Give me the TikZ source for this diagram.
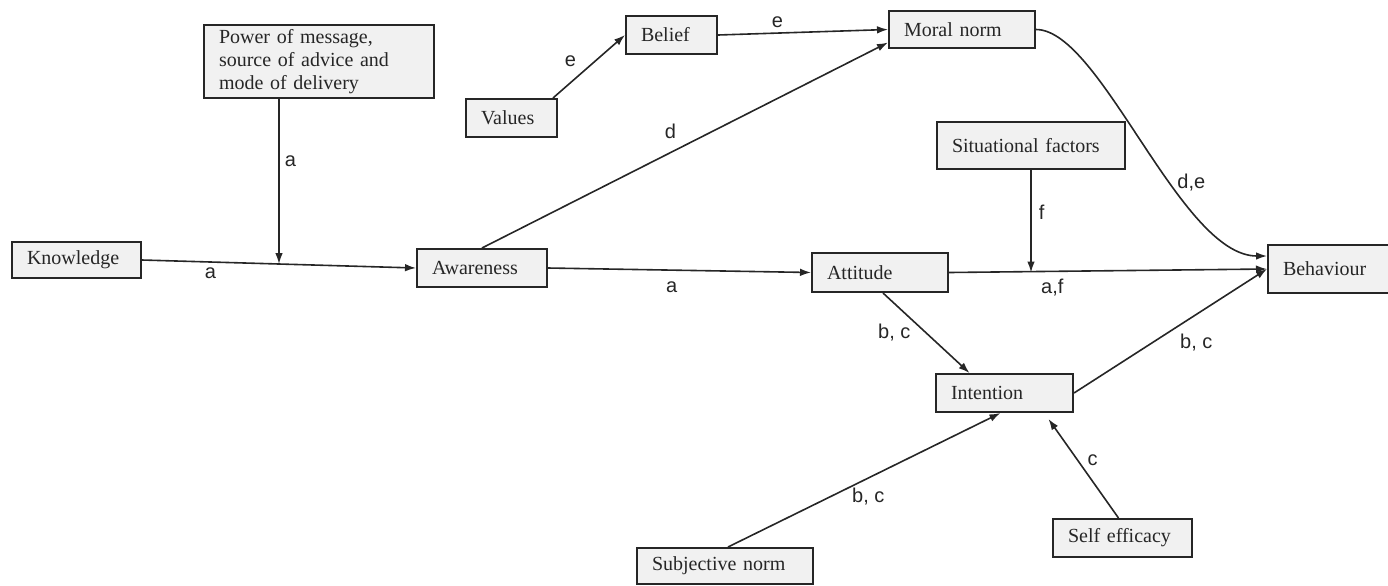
\documentclass[tikz,border=0pt]{standalone}
\usepackage{fontspec}
\setmainfont{Liberation Serif}
\newfontfamily\lblfont{Liberation Sans}
\usetikzlibrary{arrows.meta,calc}
\definecolor{boxfill}{HTML}{F1F1F1}
\definecolor{ink}{HTML}{262626}

\begin{document}
\begin{tikzpicture}[x=0.5pt,y=-0.5pt,
    box/.style 2 args={draw=ink, line width=1pt, fill=boxfill, text=ink, inner xsep=7.5pt, inner ysep=0pt,
        text width=#1, minimum height=#2, align=left, font=\fontsize{10}{11.5}\selectfont},
    link/.style={draw=ink, line width=0.8pt, -{Latex[length=5.5pt,width=3.8pt]}},
    lbl/.style={font=\lblfont\fontsize{10}{12}\selectfont, text=ink, inner sep=2.5pt}]
    \useasboundingbox (0,0) rectangle (1388,585);

    \node[box={100pt}{36.5pt}] (power) at (319,61.5) {Power of message,\\source of advice and\\mode of delivery};
    \node[box={49.5pt}{18pt}] (know) at (76.5,260) {Knowledge};
    \node[box={30.5pt}{19pt}] (values) at (511.5,118) {Values};
    \node[box={30.5pt}{19pt}] (belief) at (671.5,35) {Belief};
    \node[box={58pt}{18.5pt}] (moral) at (962,29.5) {Moral norm};
    \node[box={79pt}{23.5pt}] (situ) at (1031,145.5) {Situational factors};
    \node[box={50pt}{19pt}] (aware) at (482,268) {Awareness};
    \node[box={53pt}{19.5pt}] (attit) at (880,272.5) {Attitude};
    \node[box={50pt}{24pt}] (beh) at (1333,269) {Behaviour};
    \node[box={53.5pt}{19pt}] (inten) at (1004.5,393) {Intention};
    \node[box={54.5pt}{19pt}] (selfe) at (1122.5,538) {Self efficacy};
    \node[box={73pt}{18pt}] (subj) at (725,566) {Subjective norm};

    \coordinate (join) at ($(know.east)!0.5!(aware.west)$);
    \draw[link] (know.east) -- node[lbl,pos=0.25,below]{a} (aware.west);
    \draw[link] (power.south -| join) -- node[lbl,pos=0.38,right]{a} (join);
    \draw[link] ($(values.north east)+(-5,0)$) -- node[lbl,pos=0.4,above left]{e} (belief.west);
    \draw[link] (belief.east) -- node[lbl,pos=0.35,above]{e} (moral.west);
    \draw[link] (aware.north) -- node[lbl,pos=0.464,above=4pt]{d} ($(moral.west)+(0,13)$);
    \draw[link] (moral.east) .. controls +(65,0) and +(-87,0) .. node[lbl,pos=0.62,right]{d,e} ($(beh.west)+(0,-13)$);
    \draw[link] (aware.east) -- node[lbl,pos=0.47,below=3pt]{a} (attit.west);
    \draw[link] (attit.east) -- node[lbl,pos=0.325,below=1pt]{a,f} (beh.west);
    \draw[link] (situ.south) -- node[lbl,pos=0.415,right=1pt]{f} (situ.south |- attit.east);
    \draw[link] ($(attit.south)+(3,0)$) -- node[lbl,pos=0.5,left=5pt]{b, c} ($(inten.north)+(-35,0)$);
    \draw[link] (inten.east) -- node[lbl,pos=0.52,below right]{b, c} (beh.west);
    \draw[link] ($(subj.north)+(3,0)$) -- node[lbl,pos=0.515,below=2pt]{b, c} ($(inten.south)+(-4,0)$);
    \draw[link] ($(selfe.north)+(-4,0)$) -- node[lbl,pos=0.58,right=2pt]{c} ($(inten.south)+(44,6)$);
\end{tikzpicture}
\end{document}
